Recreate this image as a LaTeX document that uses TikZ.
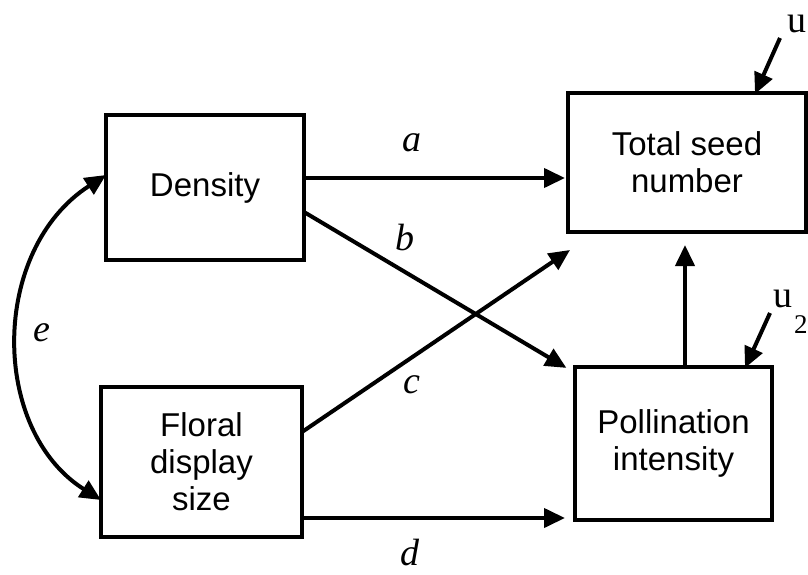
\documentclass[tikz,border=0pt]{standalone}
\usepackage{fontspec}
\setmainfont{Liberation Sans}
\newfontfamily\tms{Liberation Serif}
\usetikzlibrary{arrows.meta,calc}
\begin{document}
\begin{tikzpicture}[x=1pt,y=-1pt,
  box/.style={draw,line width=4pt,outer sep=0pt,align=center,inner sep=0pt,
    font=\fontsize{33}{37}\selectfont},
  arr/.style={line width=4pt,-{Triangle[length=21pt,width=19pt]}},
  darr/.style={line width=4pt,{Triangle[length=21pt,width=19pt]}-{Triangle[length=21pt,width=19pt]}},
  lab/.style={font=\tms\itshape\fontsize{38}{40}\selectfont,inner sep=0pt},
  ulab/.style={font=\tms\fontsize{38}{40}\selectfont,inner sep=0pt},
  sublab/.style={font=\tms\fontsize{27}{30}\selectfont,inner sep=0pt}]
\useasboundingbox (0,0) rectangle (808,575);
\node[box,minimum width=198pt,minimum height=145pt] (dens) at (205,187.5) {Density};
\node[box,minimum width=201pt,minimum height=150pt] (flo) at (201.5,462) {Floral\\display\\size};
\node[box,minimum width=238pt,minimum height=139pt] (tot) at (687,162.5) {Total seed\\number};
\node[box,minimum width=197pt,minimum height=153pt] (pol) at (673.5,443.5) {Pollination\\intensity};
% labels
\node[lab] (la) at (412,143) {a};
\node[lab] (lb) at (405,238) {b};
\node[lab] (lc) at (412,385) {c};
\node[lab] (ld) at (410,553) {d};
\node[lab] (le) at (42,333) {e};
\node[ulab,anchor=base west] (u1) at (787,33) {u};
\node[ulab,anchor=base west] (u2) at (773,307) {u};
\node[sublab,anchor=base west] (u2s) at (794,333) {2};
% connectors
\draw[arr,shorten >=3pt] ([yshift=9.5pt]dens.east) coordinate (a1) -- (tot.west |- a1);
\draw[arr,shorten >=10pt] ([yshift=-24.5pt]dens.east) -- ([yshift=-6pt]pol.north west);
\draw[arr] ([yshift=30pt]flo.east) -- ([xshift=2pt,yshift=-18pt]tot.south west);
\draw[arr,shorten >=10pt] ([yshift=-56pt]flo.east) coordinate (d1) -- (pol.west |- d1);
\draw[arr,shorten >=13pt] ([xshift=11.5pt]pol.north) coordinate (v1) -- (tot.south -| v1);
\draw[darr] ([yshift=-38pt]flo.west) .. controls (-10,430) and (-10,250) .. ([yshift=12.5pt]dens.west);
\coordinate (u1s) at (780,38);
\coordinate (u2st) at (770,313);
\draw[arr] (u1s) -- ([xshift=68pt,yshift=-1pt]tot.north);
\draw[arr] (u2st) -- ([xshift=71.5pt,yshift=-1pt]pol.north);
\end{tikzpicture}
\end{document}
